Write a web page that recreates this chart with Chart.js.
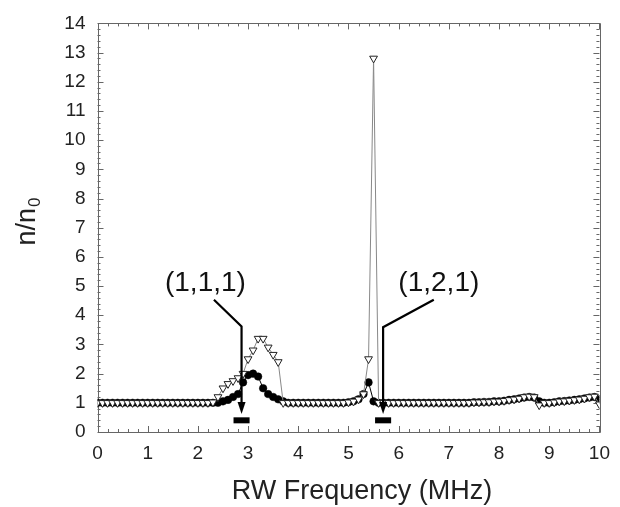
<!DOCTYPE html>
<html>
<head>
<meta charset="utf-8">
<script src="https://cdn.jsdelivr.net/npm/chart.js@4.4.1/dist/chart.umd.min.js"></script>
<style>
html,body{margin:0;padding:0;background:#fff;}
#wrap{width:620px;height:507px;position:relative;}
</style>
</head>
<body>
<div id="wrap"><canvas id="c" width="620" height="507"></canvas></div>
<script>
// ---- data ----
const freq = [
 0.0,0.1,0.2,0.3,0.4,0.5,0.6,0.7,0.8,0.9,
 1.0,1.1,1.2,1.3,1.4,1.5,1.6,1.7,1.8,1.9,
 2.0,2.1,2.2,2.3,2.4,2.5,2.6,2.7,2.8,2.9,
 3.0,3.1,3.2,3.3,3.4,3.5,3.6,3.7,3.8,3.9,
 4.0,4.1,4.2,4.3,4.4,4.5,4.6,4.7,4.8,4.9,
 5.0,5.1,5.2,5.3,5.4,5.5,5.6,5.7,5.8,5.9,
 6.0,6.1,6.2,6.3,6.4,6.5,6.6,6.7,6.8,6.9,
 7.0,7.1,7.2,7.3,7.4,7.5,7.6,7.7,7.8,7.9,
 8.0,8.1,8.2,8.3,8.4,8.5,8.6,8.7,8.8,8.9,
 9.0,9.1,9.2,9.3,9.4,9.5,9.6,9.7,9.8,9.9,
 10.0
];
const triangleSeries = [
 1.00,1.00,1.00,1.00,1.00,1.00,1.00,1.00,1.00,1.00,
 1.00,1.00,1.00,1.00,1.00,1.00,1.00,1.00,1.00,1.00,
 1.00,1.00,1.00,1.02,1.20,1.50,1.65,1.75,1.85,2.00,
 2.50,2.80,3.20,3.20,2.90,2.65,2.40,1.00,1.00,1.00,
 1.00,1.00,1.00,1.00,1.00,1.00,1.00,1.00,1.00,1.00,
 1.02,1.05,1.12,1.30,2.50,12.80,1.00,1.00,1.00,1.00,
 1.00,1.00,1.00,1.00,1.00,1.00,1.00,1.00,1.00,1.00,
 1.00,1.00,1.00,1.00,1.00,1.02,1.02,1.03,1.03,1.05,
 1.05,1.07,1.10,1.12,1.15,1.20,1.22,1.20,0.92,1.00,
 1.00,1.02,1.05,1.06,1.08,1.10,1.12,1.15,1.20,1.22,
 0.95
];
const circleSeries = [
 1.00,1.00,1.00,1.00,1.00,1.00,1.00,1.00,1.00,1.00,
 1.00,1.00,1.00,1.00,1.00,1.00,1.00,1.00,1.00,1.00,
 1.00,1.00,1.00,1.00,1.00,1.05,1.10,1.20,1.30,1.70,
 1.95,2.00,1.90,1.50,1.30,1.20,1.12,1.05,1.00,1.00,
 1.00,1.00,1.00,1.00,1.00,1.00,1.00,1.00,1.00,1.00,
 1.02,1.05,1.12,1.30,1.70,1.05,1.00,1.00,1.00,1.00,
 1.00,1.00,1.00,1.00,1.00,1.00,1.00,1.00,1.00,1.00,
 1.00,1.00,1.00,1.00,1.00,1.02,1.02,1.03,1.03,1.05,
 1.05,1.07,1.10,1.12,1.15,1.18,1.20,1.18,1.05,1.00,
 1.00,1.02,1.05,1.06,1.08,1.10,1.12,1.15,1.18,1.20,
 1.12
];
const xTickValues = [0,1,2,3,4,5,6,7,8,9,10];
const yTickValues = [0,1,2,3,4,5,6,7,8,9,10,11,12,13,14];
// mode annotations (data units)
const modeLabels   = ['(1,1,1)', '(1,2,1)'];
const modeLabelX   = [2.15, 6.80];
const modeLabelY   = [5.08, 5.08];
const leaderStartX = [2.32, 6.70];
const leaderStartY = [4.53, 4.53];
const modeFreq     = [2.87, 5.69];
const leaderBendY  = [3.62, 3.59];
const arrowTipY    = [0.62, 0.62];
const barY         = [0.40, 0.40];
const barHalfWidth = [0.16, 0.16];

const FONT = '"Liberation Sans", Arial, sans-serif';

const framePlugin = {
  id: 'frame',
  beforeDatasetsDraw(chart) {
    const {ctx, chartArea: a, scales: {x, y}} = chart;
    ctx.save();
    ctx.strokeStyle = '#666';
    ctx.lineWidth = 1;
    ctx.beginPath();
    ctx.rect(Math.round(a.left)+0.5, Math.round(a.top)+0.5, Math.round(a.right-a.left), Math.round(a.bottom-a.top));
    ctx.stroke();
    ctx.beginPath();
    for (let i = 0; i <= 50; i++) {
      const v = i * 0.2;
      const px = Math.round(x.getPixelForValue(v)) + 0.5;
      const L = (i % 5 === 0) ? 6 : 3;
      ctx.moveTo(px, a.bottom); ctx.lineTo(px, a.bottom - L);
      ctx.moveTo(px, a.top); ctx.lineTo(px, a.top + L);
    }
    for (let i = 0; i <= 70; i++) {
      const v = i * 0.2;
      const py = Math.round(y.getPixelForValue(v)) + 0.5;
      const L = (i % 5 === 0) ? 6 : 3;
      ctx.moveTo(a.left, py); ctx.lineTo(a.left + L, py);
      ctx.moveTo(a.right, py); ctx.lineTo(a.right - L, py);
    }
    ctx.stroke();
    ctx.restore();
  },
  afterDatasetsDraw(chart) {
    const {ctx, scales: {x, y}} = chart;
    ctx.save();
    for (let k = 0; k < modeLabels.length; k++) {
      ctx.fillStyle = '#111';
      ctx.font = '28px ' + FONT;
      ctx.textAlign = 'center';
      ctx.textBaseline = 'middle';
      ctx.fillText(modeLabels[k], x.getPixelForValue(modeLabelX[k]), y.getPixelForValue(modeLabelY[k]));
      const vx = x.getPixelForValue(modeFreq[k]);
      ctx.strokeStyle = '#000';
      ctx.lineWidth = 2.2;
      ctx.beginPath();
      ctx.moveTo(x.getPixelForValue(leaderStartX[k]), y.getPixelForValue(leaderStartY[k]));
      ctx.lineTo(vx, y.getPixelForValue(leaderBendY[k]));
      const tip = y.getPixelForValue(arrowTipY[k]);
      ctx.lineTo(vx, tip - 6);
      ctx.stroke();
      ctx.beginPath();
      ctx.moveTo(vx - 4, tip - 12);
      ctx.lineTo(vx + 4, tip - 12);
      ctx.lineTo(vx, tip);
      ctx.closePath();
      ctx.fillStyle = '#000';
      ctx.fill();
      const by = y.getPixelForValue(barY[k]);
      const bl = x.getPixelForValue(modeFreq[k] - barHalfWidth[k]);
      const br = x.getPixelForValue(modeFreq[k] + barHalfWidth[k]);
      ctx.fillRect(bl, by - 3, br - bl, 6);
    }
    ctx.fillStyle = '#222';
    ctx.textBaseline = 'alphabetic';
    ctx.textAlign = 'center';
    ctx.font = '27px ' + FONT;
    ctx.fillText('RW Frequency (MHz)', 362, 499);
    ctx.translate(28, 222);
    ctx.rotate(-Math.PI / 2);
    ctx.font = '27px ' + FONT;
    const w1 = ctx.measureText('n/n').width;
    ctx.font = '17px ' + FONT;
    const w2 = ctx.measureText('0').width;
    const start = -(w1 + w2) / 2;
    ctx.textAlign = 'left';
    ctx.font = '27px ' + FONT;
    ctx.fillText('n/n', start, 7);
    ctx.font = '17px ' + FONT;
    ctx.fillText('0', start + w1 + 1, 12);
    ctx.restore();
  }
};

const ctx = document.getElementById('c').getContext('2d');
new Chart(ctx, {
  type: 'line',
  data: {
    datasets: [
      {
        label: 'triangles',
        data: freq.map((f, i) => ({x: f, y: triangleSeries[i]})),
        borderColor: '#888',
        borderWidth: 1,
        pointStyle: 'triangle',
        rotation: 180,
        pointRadius: 4.5,
        pointBackgroundColor: '#fff',
        pointBorderColor: '#222',
        pointBorderWidth: 1,
        tension: 0
      },
      {
        label: 'circles',
        data: freq.map((f, i) => ({x: f, y: circleSeries[i]})),
        borderColor: '#000',
        borderWidth: 1,
        pointStyle: 'circle',
        pointRadius: 3.8,
        pointBackgroundColor: '#000',
        pointBorderColor: '#000',
        pointBorderWidth: 0.5,
        tension: 0
      }
    ]
  },
  options: {
    responsive: false,
    animation: false,
    events: [],
    layout: {padding: {left: 0, right: 17, top: 15, bottom: 0}},
    plugins: {legend: {display: false}, tooltip: {enabled: false}},
    scales: {
      x: {
        type: 'linear', min: 0, max: 10,
        afterFit(s) { s.height = 75; },
        afterBuildTicks(s) { s.ticks = xTickValues.map(v => ({value: v})); },
        grid: {display: false, drawTicks: false},
        border: {display: false},
        ticks: {font: {family: FONT, size: 19}, color: '#222', padding: 10, maxRotation: 0, autoSkip: false}
      },
      y: {
        type: 'linear', min: 0, max: 14,
        afterFit(s) { s.width = 97.5; },
        afterBuildTicks(s) { s.ticks = yTickValues.map(v => ({value: v})); },
        grid: {display: false, drawTicks: false},
        border: {display: false},
        ticks: {font: {family: FONT, size: 19}, color: '#222', padding: 12, autoSkip: false}
      }
    }
  },
  plugins: [framePlugin]
});
</script>
</body>
</html>
